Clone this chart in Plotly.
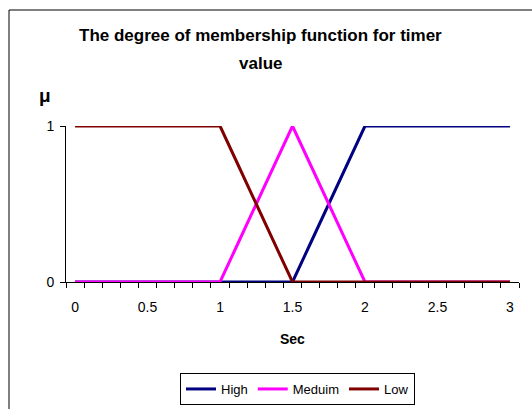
import plotly.graph_objects as go

# Timer value categories (seconds) and membership degrees
sec = [i * 0.125 for i in range(25)]
high = [0]*12 + [0, 0.25, 0.5, 0.75, 1] + [1]*8
meduim = [0]*8 + [0, 0.25, 0.5, 0.75, 1, 0.75, 0.5, 0.25, 0] + [0]*8
low = [1]*8 + [1, 0.75, 0.5, 0.25, 0] + [0]*12
x_labels = [0, 0.5, 1, 1.5, 2, 2.5, 3]

W, H = 532, 409
L, R, T, B = 66, 13, 126, 127
pw, ph = W - L - R, H - T - B

def px(x):
    return (x - L) / pw

def py(y):
    return (H - B - y) / ph

FONT = "Liberation Sans, Arial, sans-serif"

fig = go.Figure()
for name, vals, col in [("High", high, "#000080"),
                        ("Meduim", meduim, "#FF00FF"),
                        ("Low", low, "#800000")]:
    fig.add_trace(go.Scatter(x=sec, y=vals, name=name, mode="lines",
                             line=dict(color=col, width=3), cliponaxis=False))

def label(text, x, y, size):
    return dict(text=text, x=px(x), y=py(y), xref="paper", yref="paper",
                xanchor="center", yanchor="middle", showarrow=False,
                font=dict(size=size))

fig.update_layout(
    template="none",
    width=W, height=H,
    margin=dict(l=L, r=R, t=T, b=B, autoexpand=False),
    paper_bgcolor="white", plot_bgcolor="white",
    font=dict(family=FONT, color="black", size=14),
    showlegend=True,
    legend=dict(orientation="h", x=px(180), y=py(373), xanchor="left", yanchor="top",
                bordercolor="black", borderwidth=1, bgcolor="white",
                font=dict(size=13), itemwidth=30, tracegroupgap=0),
    xaxis=dict(range=[-0.0625, 3.0625], tickvals=x_labels, automargin=False,
               ticktext=[str(v) for v in x_labels], ticks="", showgrid=False,
               zeroline=False, showline=True, linecolor="black", linewidth=1,
               ticklabelstandoff=12,
               minor=dict(tick0=-0.0625, dtick=0.125, ticks="outside",
                          ticklen=5, tickcolor="black", showgrid=False)),
    yaxis=dict(range=[0, 1], tickvals=[0, 1], ticks="outside", ticklen=5,
               tickcolor="black", showgrid=False, zeroline=False, automargin=False,
               showline=True, linecolor="black", linewidth=1, ticklabelstandoff=3),
    shapes=[dict(type="rect", xref="paper", yref="paper",
                 x0=px(9), x1=px(545), y0=py(420), y1=py(10),
                 line=dict(color="black", width=1), fillcolor="rgba(0,0,0,0)")],
    annotations=[
        label("<b>The degree of membership function for timer</b>", 260, 35, 17),
        label("<b>value</b>", 260, 63, 17),
        label("<b>μ</b>", 45, 95, 19),
        label("<b>Sec</b>", 292, 339, 14),
    ],
)

fig.write_html("out.html")
